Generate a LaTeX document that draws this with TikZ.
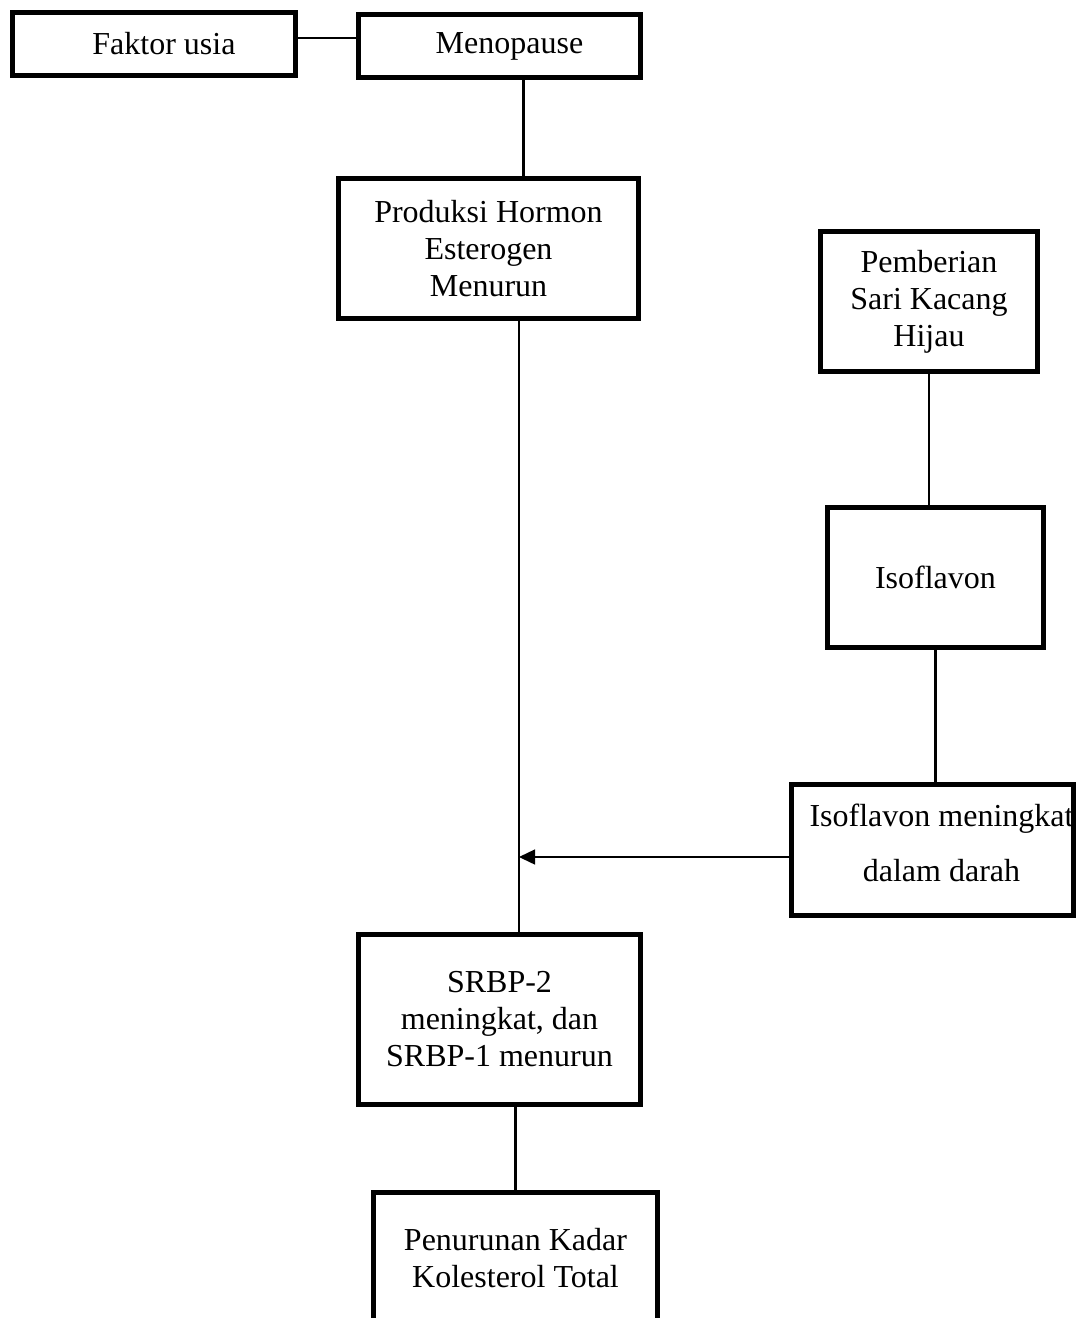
\documentclass[tikz,border=0pt]{standalone}
\usepackage{fontspec}
\setmainfont{Liberation Serif}
\usepackage{tikz}
\usetikzlibrary{arrows.meta}

\begin{document}
\begin{tikzpicture}[x=0.5pt,y=-0.5pt,
  box/.style={draw, line width=2.7pt, rectangle, align=center, inner sep=0pt,
    font=\fontsize{16pt}{18.5pt}\selectfont},
  link/.style={line width=1.35pt},
  thinlink/.style={line width=0.7pt}]
\useasboundingbox (0,0) rectangle (1078,1318);
% boxes
\node[box, minimum width=141.5pt, minimum height=31.5pt] (faktor) at (154,44) {\hspace*{10pt}Faktor usia};
\node[box, minimum width=141pt, minimum height=31.5pt] (meno) at (499.5,46) {\hspace*{10pt}Menopause};
\node[box, minimum width=150pt, minimum height=70pt] (prod) at (488.5,248.5) {Produksi Hormon\\Esterogen\\Menurun};
\node[box, minimum width=108.5pt, minimum height=70pt] (pemb) at (929,301.5) {Pemberian\\Sari Kacang\\Hijau};
\node[box, minimum width=108pt, minimum height=70pt] (iso) at (935.5,577.5) {Isoflavon};
\node[box, minimum width=141pt, minimum height=65.5pt] (darah) at (932.5,850) {\hspace*{9pt}Isoflavon meningkat\\[9pt]\hspace*{9pt}dalam darah\\[-11.5pt]};
\node[box, minimum width=141pt, minimum height=85pt] (srbp) at (499.5,1019.5) {SRBP-2\\meningkat, dan\\SRBP-1 menurun};
\node[box, minimum width=142pt, minimum height=65.5pt] (turun) at (515.5,1258) {Penurunan Kadar\\Kolesterol Total};
\coordinate (mid) at (519,857);
% connectors
\draw[link] ([yshift=3pt]faktor.east) -- ([yshift=3pt]faktor.east -| meno.west);
\draw[link] ([xshift=12pt]meno.south) -- ([xshift=12pt]meno.south |- prod.north);
\draw[thinlink] (mid |- prod.south) -- (mid |- srbp.north);
\draw[link] (pemb.south) -- (pemb.south |- iso.north);
\draw[link] (iso.south) -- (iso.south |- darah.north);
\draw[thinlink,-{Triangle[length=8pt,width=7.5pt]}] (mid -| darah.west) -- (mid);
\draw[link] ([xshift=8pt]srbp.south) -- ([xshift=8pt]srbp.south |- turun.north);
\end{tikzpicture}
\end{document}
